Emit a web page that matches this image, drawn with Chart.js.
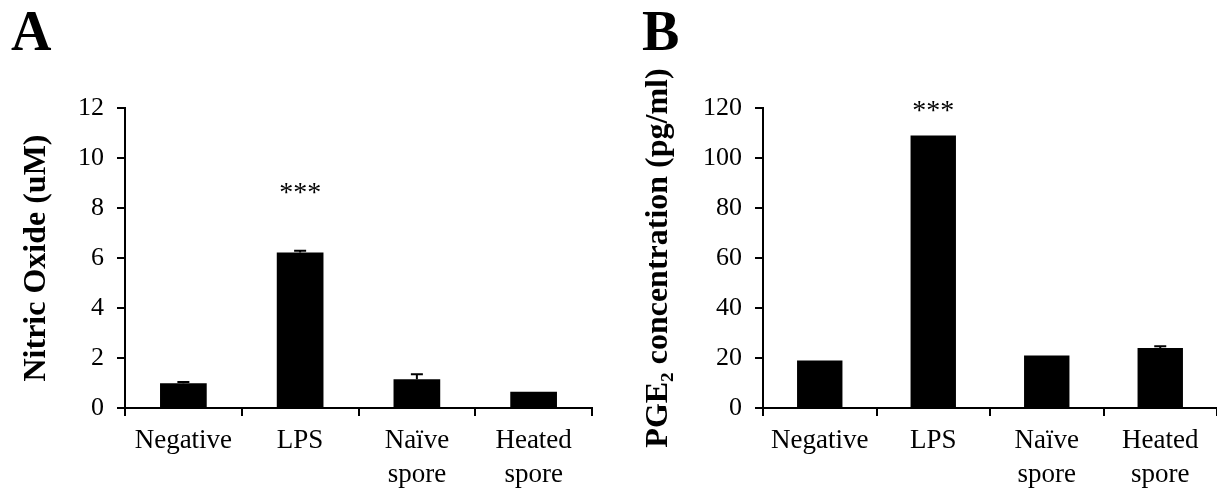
<!DOCTYPE html>
<html>
<head>
<meta charset="utf-8">
<script src="https://cdn.jsdelivr.net/npm/chart.js@4"></script>
<style>
  body { margin: 0; background: #fff; width: 1217px; height: 488px; position: relative; overflow: hidden; }
  canvas { position: absolute; top: 0; }
  .panel { position: absolute; font: bold 56px "Liberation Serif", serif; line-height: 1; color: #000; }
</style>
</head>
<body>
<div class="panel" style="left:11px;top:3px">A</div>
<div class="panel" style="left:642px;top:3px">B</div>
<canvas id="chartA" width="600" height="488" style="left:0"></canvas>
<canvas id="chartB" width="617" height="488" style="left:600px"></canvas>
<script>
// categories shared by both panels
const categories = ['Negative', 'LPS', ['Naïve', 'spore'], ['Heated', 'spore']];

// panel A - nitric oxide (uM)
const noValues = [0.99, 6.22, 1.15, 0.65];
const noErrors = [0.05, 0.07, 0.2, 0];
const noMax = 12;
const noStep = 2;
const noSigLevel = 8.8;

// panel B - PGE2 (pg/ml)
const pgeValues = [19, 109, 21, 24];
const pgeErrors = [0, 0, 0, 0.7];
const pgeMax = 120;
const pgeStep = 20;
const pgeSigLevel = 121;

const sigMarks = ['', '***', '', ''];

const serif = '"Liberation Serif", "Times New Roman", serif';

// error bars + significance stars
const extras = {
  id: 'extras',
  afterDatasetsDraw(chart, args, opts) {
    const { ctx } = chart;
    const x = chart.scales.x, y = chart.scales.y;
    const data = chart.data.datasets[0].data;
    ctx.save();
    ctx.strokeStyle = '#000';
    ctx.lineWidth = 2;
    opts.errors.forEach((e, i) => {
      if (!e) return;
      const px = x.getPixelForValue(i);
      const top = y.getPixelForValue(data[i] + e);
      ctx.beginPath();
      ctx.moveTo(px, y.getPixelForValue(data[i]));
      ctx.lineTo(px, top);
      ctx.moveTo(px - 6, top);
      ctx.lineTo(px + 6, top);
      ctx.stroke();
    });
    ctx.fillStyle = '#000';
    ctx.font = '28px ' + serif;
    ctx.textAlign = 'center';
    ctx.textBaseline = 'middle';
    opts.marks.forEach((m, i) => {
      if (m) ctx.fillText(m, x.getPixelForValue(i), y.getPixelForValue(opts.level) + 6);
    });
    ctx.restore();
  }
};

function makeChart(id, values, errors, yMax, yStep, title, leftW, titlePad, padRight, sigLevel) {
  return new Chart(document.getElementById(id), {
    type: 'bar',
    data: {
      labels: categories,
      datasets: [{
        data: values,
        backgroundColor: '#000',
        borderWidth: 0,
        barPercentage: 0.4,
        categoryPercentage: 1
      }]
    },
    plugins: [extras],
    options: {
      responsive: false,
      animation: false,
      events: [],
      layout: { padding: { top: 108, right: padRight, left: 0, bottom: 0 } },
      plugins: {
        legend: { display: false },
        tooltip: { enabled: false },
        extras: { errors: errors, marks: sigMarks, level: sigLevel }
      },
      scales: {
        x: {
          grid: { display: true, drawOnChartArea: false, offset: true, tickLength: 8, color: '#000', lineWidth: 2 },
          border: { color: '#000', width: 2 },
          ticks: { color: '#000', font: { family: serif, size: 27, lineHeight: 1.25 }, padding: 8, maxRotation: 0, autoSkip: false },
          afterFit(s) { s.height = 80; }
        },
        y: {
          min: 0,
          max: yMax,
          ticks: { stepSize: yStep, color: '#000', font: { family: serif, size: 26 }, padding: 13 },
          grid: { drawOnChartArea: false, tickLength: 8, color: '#000', lineWidth: 2 },
          border: { color: '#000', width: 2 },
          title: {
            display: true,
            text: title,
            color: '#000',
            font: { family: serif, size: 32, weight: 'bold' },
            padding: { top: titlePad, bottom: 0 }
          },
          afterFit(s) { s.width = leftW; }
        }
      }
    }
  });
}

makeChart('chartA', noValues, noErrors, noMax, noStep, 'Nitric Oxide (uM)', 125, 18, 8, noSigLevel);
makeChart('chartB', pgeValues, pgeErrors, pgeMax, pgeStep, 'PGE\u2082 concentration (pg/ml)', 163, 40, 0, pgeSigLevel);
</script>
</body>
</html>
